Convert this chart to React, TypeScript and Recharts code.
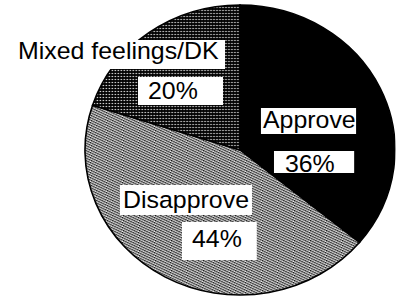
import { PieChart, Pie, Cell } from 'recharts'

const CATEGORIES = ['Approve', 'Disapprove', 'Mixed feelings/DK']
const SHARES = [36, 44, 20]
const FILLS = ['#000000', 'url(#grainPattern)', 'url(#dotPattern)']

// label boxes, offsets from the pie centre (unstretched px)
const LABEL_LAYOUT = [
  { name: { x: 19.6, y: -42, w: 89, h: 26, tx: 21.5, ty: -22 }, value: { x: 31.8, y: 1, w: 75, h: 22, tx: 42, ty: 22 } },
  { name: { x: -112.3, y: 35, w: 123.5, h: 30, tx: -109.4, ty: 58 }, value: { x: -54.3, y: 72, w: 70, h: 38, tx: -44.9, ty: 97 } },
  { name: { x: -215, y: -110, w: 201, h: 29, tx: -207.7, ty: -91 }, value: { x: -95.4, y: -73, w: 79.5, h: 28, tx: -86.1, ty: -51 } },
]

const data = CATEGORIES.map((name, i) => ({ name, value: SHARES[i] }))

const STRETCH = 1.069
const W = 370
const H = 298

function renderLabel(props: any) {
  const { cx, cy, index } = props
  const l = LABEL_LAYOUT[index]
  const d = data[index]
  const textStyle = { fontFamily: '"Liberation Sans", Arial, Helvetica, sans-serif', fontSize: 23.3, fill: '#000' }
  return (
    <g key={`lbl-${index}`}>
      <rect x={cx + l.name.x} y={cy + l.name.y} width={l.name.w} height={l.name.h} fill="#fff" />
      <text x={cx + l.name.tx} y={cy + l.name.ty} textAnchor="start" style={textStyle}>{d.name}</text>
      <rect x={cx + l.value.x} y={cy + l.value.y} width={l.value.w} height={l.value.h} fill="#fff" />
      <text x={cx + l.value.tx} y={cy + l.value.ty} textAnchor="start" style={textStyle}>{`${d.value}%`}</text>
    </g>
  )
}

export default function App() {
  return (
    <div style={{ position: 'absolute', left: 0, top: 0, width: W, height: H, background: '#fff', transform: `scaleX(${STRETCH})`, transformOrigin: '0 0' }}>
      <PieChart width={W} height={H} margin={{ top: 0, right: 0, bottom: 0, left: 0 }}>
        <defs>
          <pattern id="dotPattern" width="2.8" height="3" patternUnits="userSpaceOnUse">
            <rect width="2.8" height="3" fill="#000" />
            <rect x="0.8" y="0.9" width="1.2" height="1.2" fill="#fff" />
          </pattern>
          <pattern id="grainPattern" width="5" height="5" patternUnits="userSpaceOnUse">
            <rect width="5" height="5" fill="#8e8e8e" />
            <rect x="0" y="0" width="1" height="1" fill="#111" />
            <rect x="2" y="1" width="1" height="1" fill="#222" />
            <rect x="4" y="2" width="1" height="1" fill="#1a1a1a" />
            <rect x="1" y="3" width="1" height="1" fill="#333" />
            <rect x="3" y="4" width="1" height="1" fill="#222" />
            <rect x="2" y="0" width="1" height="1" fill="#e0e0e0" />
            <rect x="4" y="1" width="1" height="1" fill="#f0f0f0" />
            <rect x="1" y="2" width="1" height="1" fill="#d8d8d8" />
            <rect x="3" y="3" width="1" height="1" fill="#e8e8e8" />
            <rect x="0" y="4" width="1" height="1" fill="#ddd" />
          </pattern>
        </defs>
        <Pie
          data={data}
          dataKey="value"
          nameKey="name"
          cx={224.5}
          cy={150}
          outerRadius={145}
          startAngle={90}
          endAngle={-270}
          stroke="#000"
          strokeWidth={1.5}
          label={renderLabel}
          labelLine={false}
          isAnimationActive={false}
        >
          {data.map((_, i) => <Cell key={i} fill={FILLS[i]} />)}
        </Pie>
      </PieChart>
    </div>
  )
}
